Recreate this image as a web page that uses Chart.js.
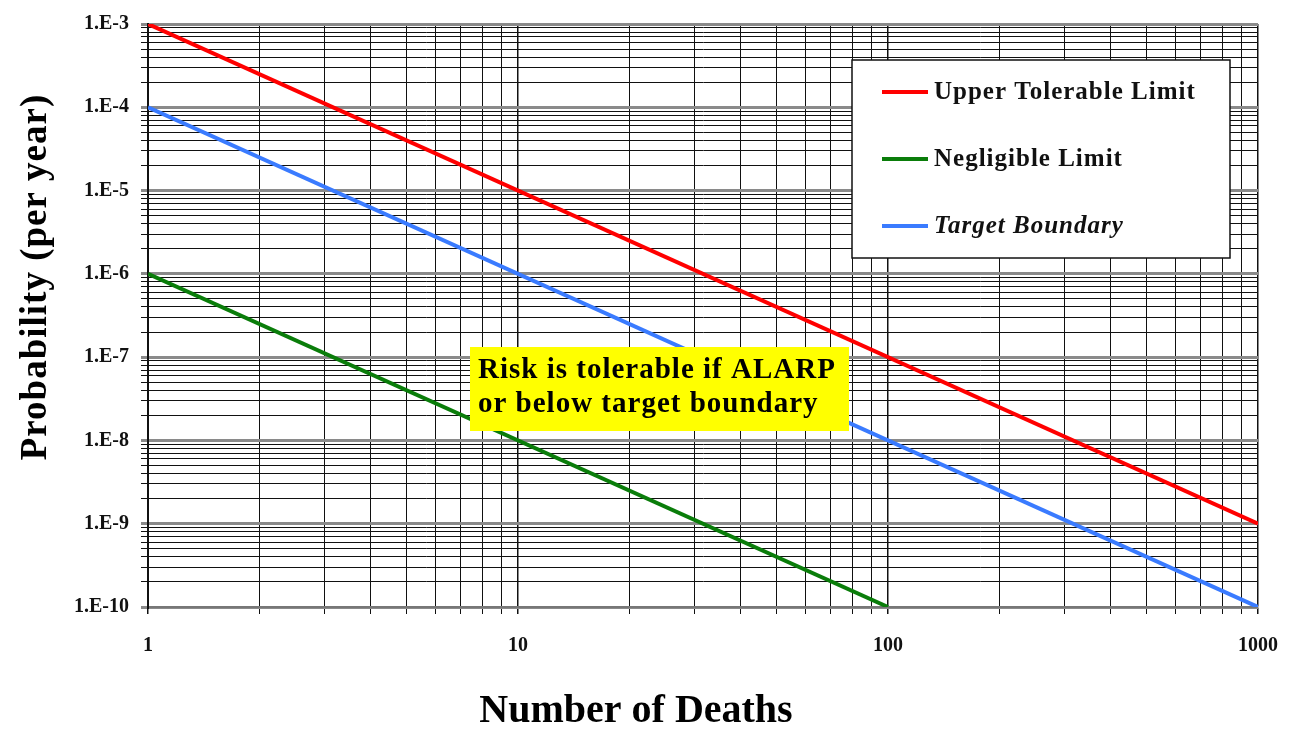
<!DOCTYPE html>
<html>
<head>
<meta charset="utf-8">
<script src="https://cdn.jsdelivr.net/npm/chart.js@4.4.1/dist/chart.umd.min.js"></script>
<style>
  html, body { margin: 0; padding: 0; background: #fff; }
  #wrap { width: 1302px; height: 729px; position: relative; }
</style>
</head>
<body>
<div id="wrap"><canvas id="riskChart"></canvas></div>
<script>
// Series (number of deaths vs probability per year)
const upperX = [1, 1000];
const upperY = [1e-3, 1e-9];
const negligibleX = [1, 100];
const negligibleY = [1e-6, 1e-10];
const targetX = [1, 1000];
const targetY = [1e-4, 1e-10];

const seriesLabels = ['Upper Tolerable Limit', 'Negligible Limit', 'Target Boundary'];
const seriesColors = ['#ff0000', '#0a7d0a', '#3a7bff'];

// Axis ranges / labelled decades
const xDecades = [1, 10, 100, 1000];
const yDecades = [1e-10, 1e-9, 1e-8, 1e-7, 1e-6, 1e-5, 1e-4, 1e-3];
const noteLines = ['Risk is tolerable if ALARP', 'or below target boundary'];

const SERIF = '"Liberation Serif", "DejaVu Serif", serif';

function toPoints(xs, ys) {
    return xs.map((x, i) => ({ x: x, y: ys[i] }));
}

// Log ticks 1..9 per decade between the labelled decades
function decadeTicks(decades) {
    const ticks = [];
    for (let i = 0; i < decades.length - 1; i++) {
        for (let k = 1; k < 10; k++) ticks.push({ value: k * decades[i] });
    }
    ticks.push({ value: decades[decades.length - 1] });
    return ticks;
}

function isDecade(v) {
    const l = Math.log10(v);
    return Math.abs(l - Math.round(l)) < 1e-9;
}

// Axis titles, legend box and yellow note drawn on top
const overlayPlugin = {
    id: 'overlay',
    afterDraw(chart) {
        const ctx = chart.ctx;
        const area = chart.chartArea;
        ctx.save();

        // y title
        ctx.fillStyle = '#000';
        ctx.font = 'bold 37px ' + SERIF;
        ctx.letterSpacing = '1px';
        ctx.textAlign = 'center';
        ctx.textBaseline = 'middle';
        ctx.translate(36, 277);
        ctx.rotate(-Math.PI / 2);
        ctx.fillText('Probability (per year)', 0, 0);
        ctx.setTransform(1, 0, 0, 1, 0, 0);

        // x title
        ctx.font = 'bold 40px ' + SERIF;
        ctx.letterSpacing = '0px';
        ctx.fillText('Number of Deaths', 636, 712);

        // legend
        const lx = area.left + 704, ly = area.top + 36;
        ctx.fillStyle = '#fff';
        ctx.fillRect(lx, ly, 378, 198);
        ctx.strokeStyle = '#111';
        ctx.lineWidth = 1.5;
        ctx.strokeRect(lx, ly, 378, 198);
        ctx.textAlign = 'left';
        ctx.letterSpacing = '1px';
        seriesLabels.forEach((lab, i) => {
            const yy = ly + 32 + i * 67;
            ctx.strokeStyle = seriesColors[i];
            ctx.lineWidth = 4;
            ctx.beginPath();
            ctx.moveTo(lx + 30, yy);
            ctx.lineTo(lx + 76, yy);
            ctx.stroke();
            ctx.fillStyle = '#111';
            ctx.font = (i === 2 ? 'italic bold ' : 'bold ') + '25px ' + SERIF;
            ctx.fillText(lab, lx + 82, yy + 1);
        });

        // note box
        const nx = area.left + 322, ny = area.top + 323;
        ctx.fillStyle = '#ffff00';
        ctx.fillRect(nx, ny, 379, 84);
        ctx.fillStyle = '#000';
        ctx.font = 'bold 29px ' + SERIF;
        noteLines.forEach((t, i) => ctx.fillText(t, nx + 8, ny + 24 + i * 34));

        ctx.restore();
    }
};

const ctx = document.getElementById('riskChart');

new Chart(ctx, {
    type: 'line',
    data: {
        datasets: [
            { label: seriesLabels[0], data: toPoints(upperX, upperY) },
            { label: seriesLabels[1], data: toPoints(negligibleX, negligibleY) },
            { label: seriesLabels[2], data: toPoints(targetX, targetY) }
        ].map((d, i) => Object.assign(d, {
            borderColor: seriesColors[i],
            backgroundColor: seriesColors[i],
            borderWidth: 4,
            pointRadius: 0,
            tension: 0,
            fill: false
        }))
    },
    options: {
        responsive: true,
        maintainAspectRatio: false,
        animation: false,
        layout: { padding: { top: 24, right: 44, left: 0, bottom: 0 } },
        plugins: {
            legend: { display: false },
            tooltip: { enabled: false }
        },
        scales: {
            x: {
                type: 'logarithmic',
                min: xDecades[0],
                max: xDecades[xDecades.length - 1],
                afterBuildTicks: (scale) => { scale.ticks = decadeTicks(xDecades); },
                afterFit: (scale) => { scale.height = 122; },
                border: { color: '#777', width: 2 },
                grid: {
                    color: '#111',
                    lineWidth: (c) => (c.tick && isDecade(c.tick.value) ? 1.5 : 1),
                    tickLength: 7
                },
                ticks: {
                    autoSkip: false,
                    maxRotation: 0,
                    padding: 20,
                    color: '#111',
                    font: { family: SERIF, size: 20, weight: 'bold' },
                    callback: (v) => (isDecade(v) ? String(Math.round(v)) : '')
                }
            },
            y: {
                type: 'logarithmic',
                min: yDecades[0],
                max: yDecades[yDecades.length - 1],
                afterBuildTicks: (scale) => { scale.ticks = decadeTicks(yDecades); },
                afterFit: (scale) => { scale.width = 148; },
                border: { color: '#111', width: 2 },
                grid: {
                    color: (c) => (c.tick && isDecade(c.tick.value) ? '#8a8a8a' : '#111'),
                    lineWidth: (c) => (c.tick && isDecade(c.tick.value) ? 3 : 1),
                    tickLength: 7
                },
                ticks: {
                    autoSkip: false,
                    padding: 12,
                    color: '#111',
                    font: { family: SERIF, size: 20, weight: 'bold' },
                    callback: (v) => (isDecade(v) ? '1.E' + Math.round(Math.log10(v)) : '')
                }
            }
        }
    },
    plugins: [overlayPlugin]
});
</script>
</body>
</html>
